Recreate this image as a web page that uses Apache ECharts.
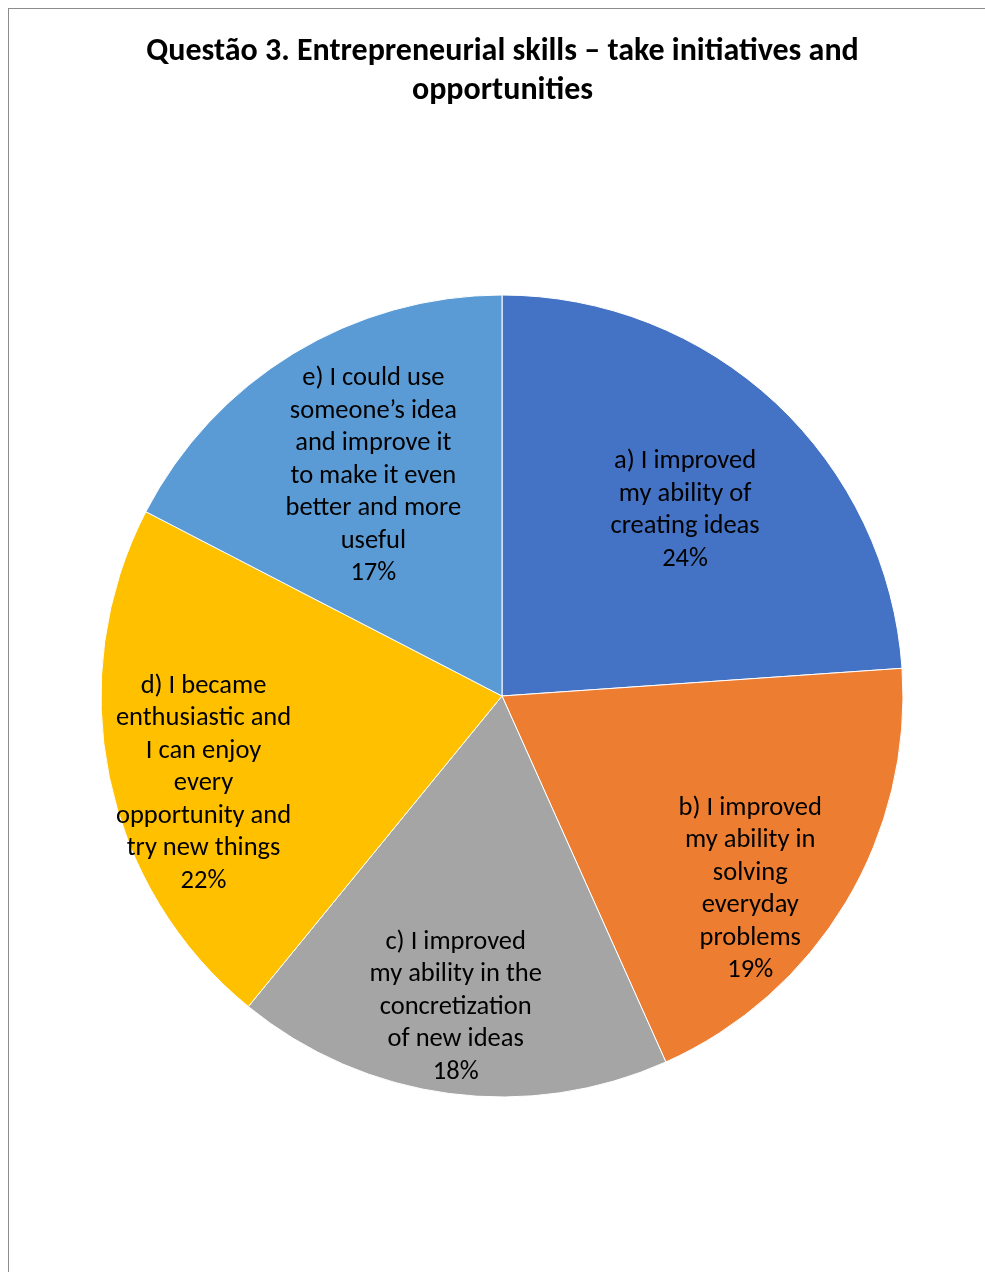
<!DOCTYPE html>
<html>
<head>
<meta charset="utf-8">
<script src="https://cdn.jsdelivr.net/npm/echarts@6/dist/echarts.min.js"></script>
<style>
html,body{margin:0;padding:0;background:#fff;overflow:hidden;}
#frame{position:absolute;left:8px;top:8px;width:990px;height:1280px;border-left:1px solid #8c8c8c;border-top:1px solid #8c8c8c;}
#chart{position:absolute;left:0;top:0;width:987px;height:1270px;}
</style>
</head>
<body>
<div id="frame"><div id="chart"></div></div>
<script>
const titleText = 'Questão 3. Entrepreneurial skills – take initiatives and\nopportunities';
const categories = [
  'a) I improved\nmy ability of\ncreating ideas',
  'b) I improved\nmy ability in\nsolving\neveryday\nproblems',
  'c) I improved\nmy ability in the\nconcretization\nof new ideas',
  'd) I became\nenthusiastic and\nI can enjoy\nevery\nopportunity and\ntry new things',
  'e) I could use\nsomeone’s idea\nand improve it\nto make it even\nbetter and more\nuseful'
];
// shares read from the slice boundaries (labels show them rounded: 24, 19, 18, 22, 17)
const values = [23.9, 19.4, 17.6, 21.7, 17.4];
const colors = ['#4472C4', '#ED7D31', '#A5A5A5', '#FFC000', '#5B9BD5'];
const nearLabels = [true, false, false, false, true];

const FONT = 'Carlito, Calibri, Lato, sans-serif';
const center = [493, 687];
// small label nudges (Excel places labels slightly off the mid-angle)
const labelNudge = [[5, 5], [-21, 32], [-5, 0], [9, 24], [7, 3]];

function ghost(radius, useNear) {
  return {
    type: 'pie', center: center, radius: [0, radius], startAngle: 90, clockwise: true,
    silent: true, z: 5, percentPrecision: 0,
    itemStyle: { color: 'rgba(0,0,0,0)', borderWidth: 0 },
    emphasis: { disabled: true },
    labelLine: { show: false },
    labelLayout: p => ({ dx: labelNudge[p.dataIndex][0], dy: labelNudge[p.dataIndex][1] }),
    data: categories.map((c, i) => ({
      name: c, value: values[i],
      label: { show: nearLabels[i] === useNear }
    })),
    label: {
      show: true, position: 'inside', formatter: p => p.name + '\n' + p.percent + '%',
      color: '#000', fontSize: 26.5, lineHeight: 32.5, fontFamily: FONT, align: 'center'
    }
  };
}

const chart = echarts.init(document.getElementById('chart'), null, { renderer: 'canvas' });
chart.setOption({
  animation: false,
  title: {
    text: titleText, left: 'center', top: 18,
    textStyle: { fontSize: 32, fontWeight: 'bold', fontFamily: FONT, color: '#000', lineHeight: 39 }
  },
  series: [
    {
      type: 'pie', center: center, radius: [0, 401], startAngle: 90, clockwise: true,
      silent: true, label: { show: false }, labelLine: { show: false },
      itemStyle: { borderColor: '#fff', borderWidth: 1 },
      data: categories.map((c, i) => ({ name: c, value: values[i], itemStyle: { color: colors[i] } }))
    },
    ghost(516, true),
    ghost(622, false)
  ]
});
</script>
</body>
</html>
